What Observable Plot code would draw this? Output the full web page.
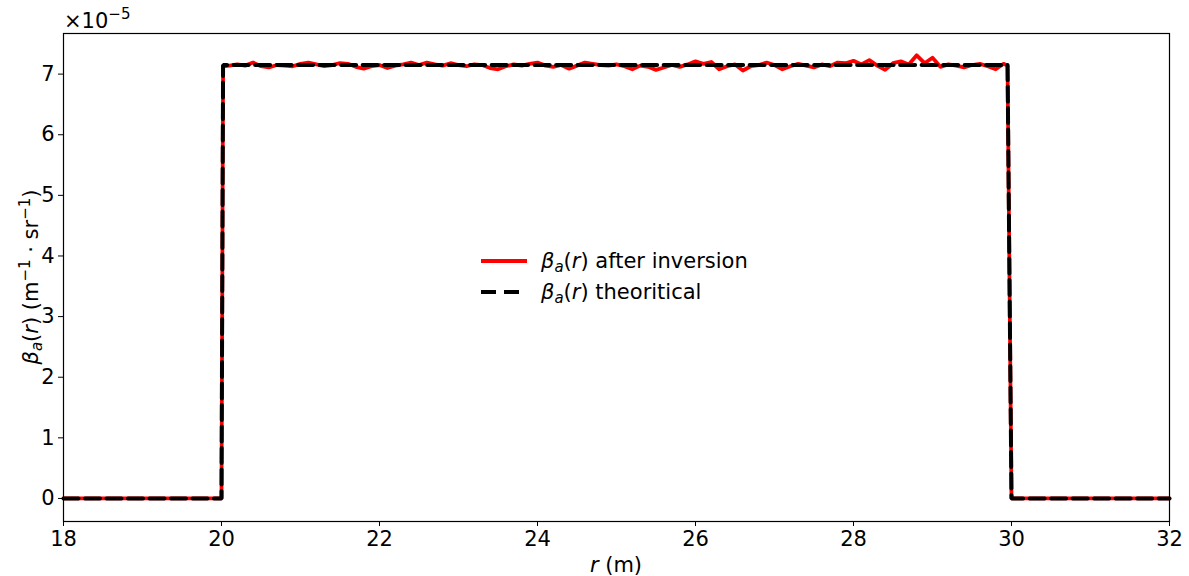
<!DOCTYPE html>
<html><head><meta charset="utf-8">
<script src="https://cdn.jsdelivr.net/npm/d3@7"></script>
<script src="https://cdn.jsdelivr.net/npm/@observablehq/plot@0.6"></script>
<style>body{margin:0;background:#fff} svg{font-family:"DejaVu Sans",sans-serif}</style>
</head><body><div id="chart"></div>
<script>
// data (beta values in units of 1e-5 m^-1 sr^-1)
const xTicks = [18, 20, 22, 24, 26, 28, 30, 32];
const yTicks = [0, 1, 2, 3, 4, 5, 6, 7];
const theoR = [18, 20, 20.02, 29.95, 30, 32];
const theoB = [0, 0, 7.15, 7.15, 0, 0];
const invR = [18, 20, 20.02,
  20.1, 20.2, 20.3, 20.4, 20.5, 20.6, 20.7, 20.8, 20.9, 21.0,
  21.1, 21.2, 21.3, 21.4, 21.5, 21.6, 21.7, 21.8, 21.9, 22.0,
  22.1, 22.2, 22.3, 22.4, 22.5, 22.6, 22.7, 22.8, 22.9, 23.0,
  23.1, 23.2, 23.3, 23.4, 23.5, 23.6, 23.7, 23.8, 23.9, 24.0,
  24.1, 24.2, 24.3, 24.4, 24.5, 24.6, 24.7, 24.8, 24.9, 25.0,
  25.1, 25.2, 25.3, 25.4, 25.5, 25.6, 25.7, 25.8, 25.9, 26.0,
  26.1, 26.2, 26.3, 26.4, 26.5, 26.6, 26.7, 26.8, 26.9, 27.0,
  27.1, 27.2, 27.3, 27.4, 27.5, 27.6, 27.7, 27.8, 27.9, 28.0,
  28.1, 28.2, 28.3, 28.4, 28.5, 28.6, 28.7, 28.8, 28.9, 29.0,
  29.1, 29.2, 29.3, 29.4, 29.5, 29.6, 29.7, 29.8, 29.9, 29.95,
  30, 32];
const invB = [0, 0, 7.13,
  7.14, 7.16, 7.14, 7.19, 7.13, 7.11, 7.15, 7.14, 7.13, 7.17,
  7.19, 7.16, 7.13, 7.15, 7.18, 7.17, 7.12, 7.09, 7.13, 7.15,
  7.10, 7.14, 7.16, 7.19, 7.15, 7.19, 7.16, 7.14, 7.18, 7.15,
  7.13, 7.16, 7.15, 7.10, 7.08, 7.13, 7.16, 7.14, 7.17, 7.19,
  7.14, 7.12, 7.15, 7.09, 7.14, 7.19, 7.17, 7.15, 7.14, 7.16,
  7.13, 7.08, 7.14, 7.12, 7.07, 7.11, 7.15, 7.12, 7.16, 7.21,
  7.17, 7.20, 7.08, 7.13, 7.16, 7.06, 7.13, 7.15, 7.19, 7.15,
  7.08, 7.13, 7.17, 7.14, 7.11, 7.16, 7.13, 7.19, 7.18, 7.22,
  7.16, 7.23, 7.14, 7.07, 7.18, 7.21, 7.16, 7.31, 7.18, 7.27,
  7.12, 7.16, 7.14, 7.11, 7.15, 7.17, 7.13, 7.08, 7.17, 7.14,
  0, 0];
const legendLabels = ["after inversion", "theoritical"];

const theo = theoR.map((r, i) => ({r, b: theoB[i]}));
const inv = invR.map((r, i) => ({r, b: invB[i]}));

const W = 1189, H = 576, FS = 21, FSS = 15;
const plot = Plot.plot({
  width: W, height: H,
  marginLeft: 63, marginRight: 20, marginTop: 33, marginBottom: 55,
  style: {fontSize: FS + "px", fontFamily: "DejaVu Sans", color: "#000", background: "#fff"},
  x: {domain: [18, 32], label: null},
  y: {domain: [-0.38, 7.67], label: null},
  marks: [
    Plot.line(inv, {x: "r", y: "b", stroke: "#ff0000", strokeWidth: 3.8, strokeLinejoin: "round"}),
    Plot.line(theo, {x: "r", y: "b", stroke: "#000", strokeWidth: 4, strokeDasharray: "15,6.5", strokeLinejoin: "miter"}),
    Plot.frame({stroke: "#000", strokeWidth: 1.2}),
    Plot.axisX({ticks: xTicks, tickSize: 5, tickPadding: 5, tickFormat: d => String(d), label: null, stroke: "#000", fontSize: FS}),
    Plot.axisY({ticks: yTicks, tickSize: 5, tickPadding: 4, tickFormat: d => String(d), label: null, stroke: "#000", fontSize: FS})
  ]
});
document.getElementById("chart").appendChild(plot);

const svg = d3.select(plot);
const sx = plot.scale("x"), sy = plot.scale("y");
const ff = "DejaVu Sans";

// x label
const xl = svg.append("text").attr("x", (sx.apply(18) + sx.apply(32)) / 2).attr("y", 572)
  .attr("text-anchor", "middle").attr("font-size", FS).attr("font-family", ff);
xl.append("tspan").attr("font-style", "italic").text("r");
xl.append("tspan").text(" (m)");

// y label
const yl = svg.append("text").attr("transform", `translate(38,${(sy.apply(7.67) + sy.apply(-0.38)) / 2}) rotate(-90)`)
  .attr("text-anchor", "middle").attr("font-size", FS).attr("font-family", ff);
yl.append("tspan").attr("font-style", "italic").text("β");
yl.append("tspan").attr("font-style", "italic").attr("font-size", FSS).attr("dy", 4).text("a");
yl.append("tspan").attr("dy", -4).text("(");
yl.append("tspan").attr("font-style", "italic").text("r");
yl.append("tspan").text(") (m");
yl.append("tspan").attr("font-size", FSS).attr("dy", -8).text("−1");
yl.append("tspan").attr("dy", 8).text(" · sr");
yl.append("tspan").attr("font-size", FSS).attr("dy", -8).text("−1");
yl.append("tspan").attr("dy", 8).text(")");

// exponent label
const ex = svg.append("text").attr("x", 64).attr("y", 28).attr("text-anchor", "start")
  .attr("font-size", FS).attr("font-family", ff);
ex.append("tspan").text("×10");
ex.append("tspan").attr("font-size", FSS).attr("dy", -9).text("−5");

// legend
const lg = svg.append("g").attr("text-anchor", "start");
const rows = [{y: 261, x2: 527, stroke: "#ff0000", dash: null, label: legendLabels[0]},
              {y: 292, x2: 521, stroke: "#000", dash: "15,8", label: legendLabels[1]}];
rows.forEach(rw => {
  const ln = lg.append("line").attr("x1", 481).attr("x2", rw.x2).attr("y1", rw.y).attr("y2", rw.y)
    .attr("stroke", rw.stroke).attr("stroke-width", 4);
  if (rw.dash) ln.attr("stroke-dasharray", rw.dash);
  const t = lg.append("text").attr("x", 541).attr("y", rw.y + 7).attr("text-anchor", "start")
    .attr("font-size", FS).attr("font-family", ff);
  t.append("tspan").attr("font-style", "italic").text("β");
  t.append("tspan").attr("font-style", "italic").attr("font-size", FSS).attr("dy", 4).text("a");
  t.append("tspan").attr("dy", -4).text("(");
  t.append("tspan").attr("font-style", "italic").text("r");
  t.append("tspan").text(") " + rw.label);
});
</script>
</body></html>
